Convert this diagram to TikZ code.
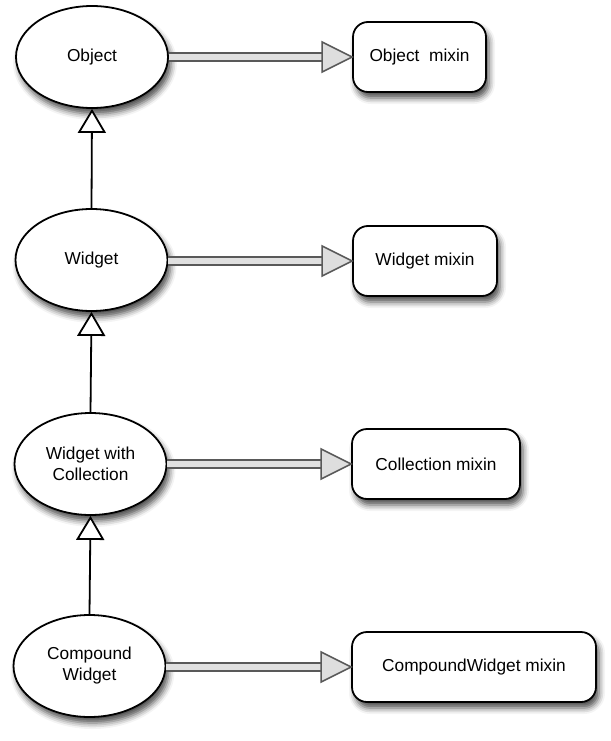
\documentclass[tikz,border=0pt]{standalone}
\usepackage{fontspec}
\setmainfont{Liberation Sans}
\usetikzlibrary{shapes.geometric,arrows.meta,shadows.blur,calc}
\begin{document}
\begin{tikzpicture}[x=1pt,y=-1pt,
  txt/.style={font=\fontsize{17.3}{21}\selectfont},
  sh/.style={blur shadow={shadow xshift=3pt, shadow yshift=-6pt, shadow blur radius=6pt, shadow opacity=70}},
  cls/.style={ellipse, draw=black, line width=1.8pt, fill=white, minimum width=152pt, minimum height=102pt, inner sep=0pt, align=center, txt, sh},
  mix/.style={rectangle, rounded corners=15pt, draw=black, line width=1.8pt, fill=white, minimum height=70pt, inner sep=0pt, txt, sh},
  shaft/.style={draw=black!65, line width=1.6pt, double=black!12, double distance=6.5pt},
  headtri/.style={draw=black!65, line width=1.6pt, fill=black!13, line join=miter},
  inh/.style={line width=1.8pt, -{Triangle[length=24pt, width=28pt, fill=white]}}
]
\useasboundingbox (0,0) rectangle (610,741);
\node[cls] (o) at (92,57) {Object};
\node[cls] (w) at (91.5,260) {Widget};
\node[cls] (c) at (90.5,464) {Widget with\\Collection};
\node[cls] (k) at (89.5,666) {Compound\\Widget};
\node[mix, minimum width=133pt] (om) at (419.5,57) {Object~~mixin};
\node[mix, minimum width=144pt] (wm) at (425,261) {Widget mixin};
\node[mix, minimum width=168pt] (cm) at (436,464) {Collection mixin};
\node[mix, minimum width=244pt] (km) at (474,667) {CompoundWidget mixin};
\foreach \a/\b in {o/om, w/wm, c/cm, k/km}{
  \draw[shaft] (\a.east |- \b.west) -- ([xshift=-28pt]\b.west);
  \draw[headtri] (\b.west) -- ++(-30,-15) -- ++(0,30) -- cycle;
}
\draw[inh] (w.north) -- (o.south);
\draw[inh] (c.north) -- (w.south);
\draw[inh] (k.north) -- (c.south);
\end{tikzpicture}
\end{document}
